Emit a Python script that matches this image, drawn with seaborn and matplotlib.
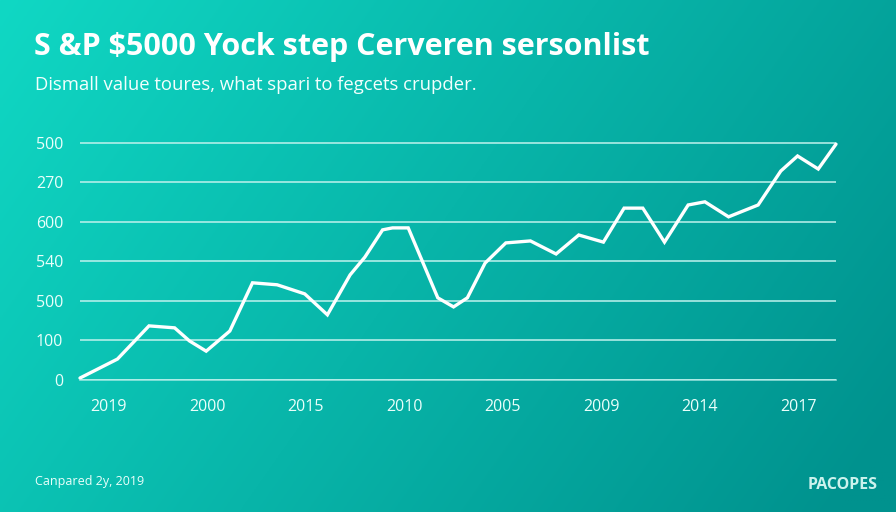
import numpy as np
import matplotlib
matplotlib.use('Agg')
import matplotlib.pyplot as plt
import seaborn as sns
import pandas as pd

# ==========================================
# 数据 (tick 索引单位)
# ==========================================
x_pos = [-0.29, 0.09, 0.41, 0.67, 0.82, 0.99, 1.23, 1.46, 1.71, 1.99, 2.22, 2.45,
         2.60, 2.78, 2.88, 3.04, 3.34, 3.50, 3.64, 3.82, 4.03, 4.28, 4.54, 4.77,
         5.02, 5.23, 5.42, 5.64, 5.88, 6.05, 6.29, 6.59, 6.82, 6.99, 7.20, 7.38]
values = [0.05, 0.53, 1.37, 1.32, 0.99, 0.73, 1.24, 2.46, 2.41, 2.18, 1.65, 2.66,
          3.11, 3.80, 3.85, 3.85, 2.08, 1.85, 2.08, 2.96, 3.47, 3.52, 3.19, 3.67,
          3.49, 4.35, 4.35, 3.49, 4.43, 4.51, 4.13, 4.43, 5.29, 5.67, 5.34, 5.97]
x_labels = ['2019', '2000', '2015', '2010', '2005', '2009', '2014', '2017']
y_labels = ['0', '100', '500', '540', '600', '270', '500']

title = 'S &P $5000 Yock step Cerveren sersonlist'
subtitle = 'Dismall value toures, what spari to fegcets crupder.'
footer_left = 'Canpared 2y, 2019'
footer_right = 'PACOPES'

df = pd.DataFrame({'x': x_pos, 'y': values})

sns.set_theme(style='white')
plt.rcParams['font.family'] = ['Open Sans', 'DejaVu Sans']

W, H = 896, 512
fig = plt.figure(figsize=(W / 100, H / 100), dpi=100)

# 背景渐变
bg = fig.add_axes([0, 0, 1, 1])
gx, gy = np.meshgrid(np.linspace(0, 1, 300), np.linspace(0, 1, 200))
t = np.clip(0.75 * gx + 0.3 * gy, 0, 1)
c0 = np.array([16, 216, 196]) / 255
c1 = np.array([0, 146, 142]) / 255
img = c0[None, None, :] * (1 - t[..., None]) + c1[None, None, :] * t[..., None]
bg.imshow(img, aspect='auto', extent=[0, 1, 0, 1], origin='upper')
bg.axis('off')

grid_col = (0.75, 0.95, 0.93, 0.75)

ax = fig.add_axes([80 / W, (512 - 380) / H, (836 - 80) / W, (380 - 139) / H])
ax.patch.set_alpha(0)
sns.lineplot(data=df, x='x', y='y', ax=ax, color='white', linewidth=2.4,
             clip_on=False, solid_joinstyle='miter')

ax.set_xlim(-0.29, 7.38)
ax.set_ylim(0, 6.1)
ax.set_xticks(range(len(x_labels)))
ax.set_xticklabels(x_labels)
ax.set_yticks(range(len(y_labels)))
ax.set_yticklabels(y_labels)
ax.set_xlabel('')
ax.set_ylabel('')

for s in ['top', 'right', 'left']:
    ax.spines[s].set_visible(False)
ax.spines['bottom'].set_color(grid_col)
ax.spines['bottom'].set_linewidth(1.2)
ax.yaxis.grid(True, color=grid_col, linewidth=1.1)
ax.set_axisbelow(True)

ax.tick_params(axis='x', colors=grid_col, length=4, width=1, direction='out',
               labelcolor='#eafffb', labelsize=11.5, pad=10)
ax.tick_params(axis='y', length=0, labelcolor='#eafffb', labelsize=11.5, pad=12)

fig.text(34 / W, 1 - 47 / H, title, color='white', fontsize=22,
         fontweight='bold', va='center', ha='left')
fig.text(35 / W, 1 - 85 / H, subtitle, color='#f2fffd', fontsize=13.3,
         va='center', ha='left')
fig.text(35 / W, 1 - 482 / H, footer_left, color='#eafffb', fontsize=9,
         va='center', ha='left')
fig.text(878 / W, 1 - 485 / H, footer_right, color=(0.8, 0.95, 0.93), fontsize=11.5,
         fontweight='bold', va='center', ha='right')

fig.savefig('out.png', dpi=100)
